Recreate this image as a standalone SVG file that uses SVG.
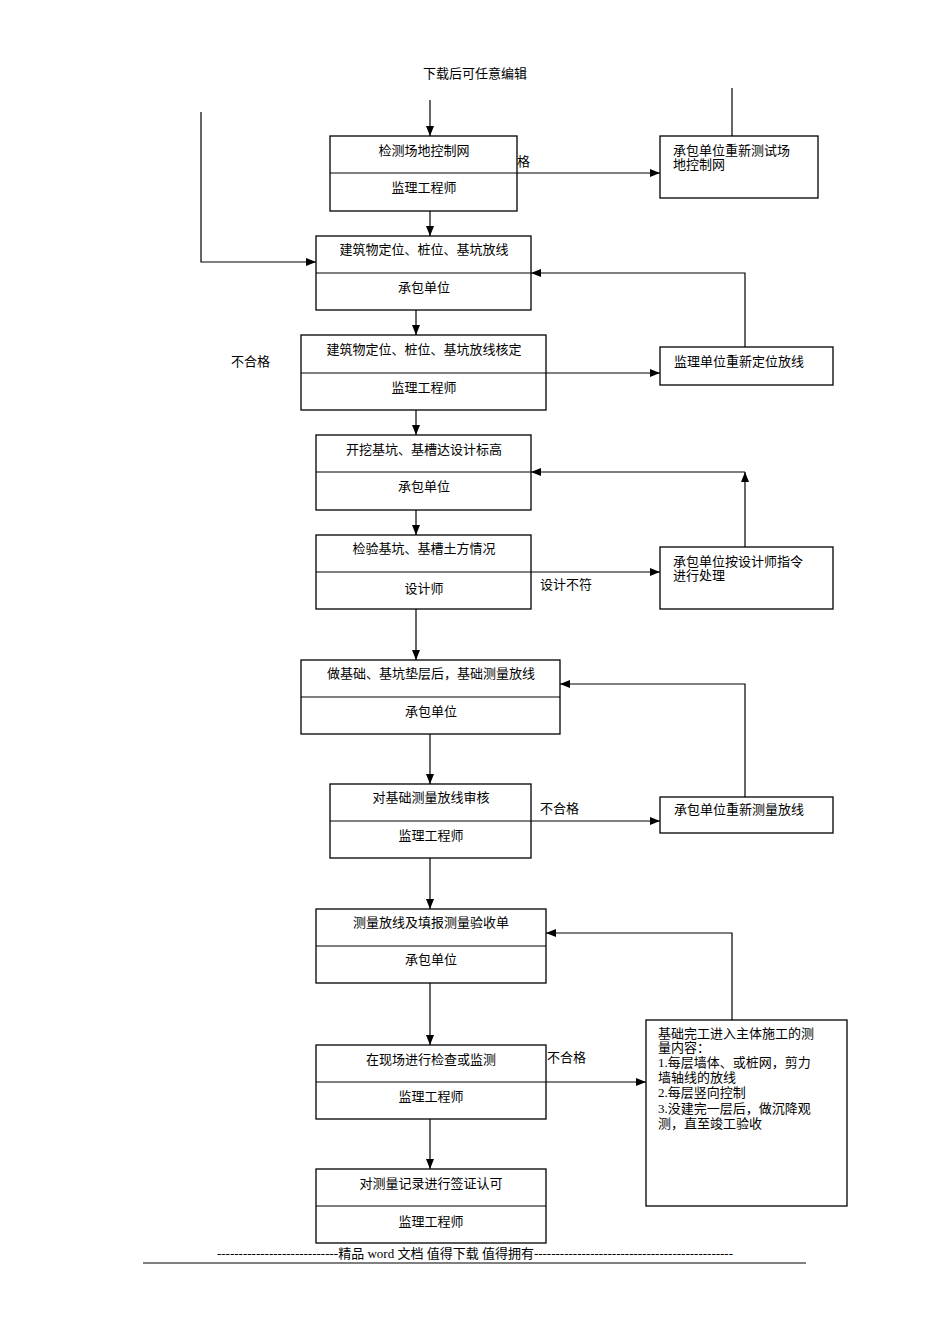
<svg xmlns="http://www.w3.org/2000/svg" width="950" height="1344" viewBox="0 0 950 1344">
<defs>
<marker id="a" markerWidth="10" markerHeight="8" refX="10" refY="4" orient="auto" markerUnits="userSpaceOnUse"><path d="M0,0L10,4L0,8z" fill="#000"/></marker>
<style>
rect{fill:#fff;stroke:#000;stroke-width:1.3}
line.d{stroke:#000;stroke-width:1}
text{font-family:"Liberation Serif","Noto Sans CJK SC",serif;font-size:13px;fill:#000}
.c{text-anchor:middle}
#conn path{fill:none;stroke:#000;stroke-width:1.2}
.m{marker-end:url(#a)}
</style>
</defs>
<rect width="950" height="1344" style="fill:#fff;stroke:none"/>
<text class="c" x="475" y="78" font-size="12">下载后可任意编辑</text>
<g id="conn">
<path class="m" d="M430,100V136"/>
<path d="M732,88V136"/>
<path class="m" d="M201,112V262H316"/>
<path class="m" d="M517,173H660"/>
<path class="m" d="M430,211V236"/>
<path class="m" d="M745,347V273H531"/>
<path class="m" d="M416,310V335"/>
<path class="m" d="M546,373H660"/>
<path class="m" d="M416,410V435"/>
<path class="m" d="M745,547V472"/>
<path class="m" d="M745,472H531"/>
<path class="m" d="M416,510V535"/>
<path class="m" d="M531,572H660"/>
<path class="m" d="M416,609V660"/>
<path class="m" d="M745,797V684H560"/>
<path class="m" d="M430,734V784"/>
<path class="m" d="M531,821H660"/>
<path class="m" d="M430,858V909"/>
<path class="m" d="M732,1020V933H546"/>
<path class="m" d="M430,983V1045"/>
<path class="m" d="M546,1082H646"/>
<path class="m" d="M430,1119V1169"/>
</g>
<text x="517" y="166">格</text>
<text x="231" y="366">不合格</text>
<text x="540" y="589">设计不符</text>
<text x="540" y="813">不合格</text>
<text x="547" y="1062">不合格</text>
<g id="n1"><rect x="330" y="136" width="187" height="75"/><line class="d" x1="330" y1="173" x2="517" y2="173"/><text class="c" x="424" y="155">检测场地控制网</text><text class="c" x="424" y="192">监理工程师</text></g>
<g id="n2"><rect x="316" y="236" width="215" height="74"/><line class="d" x1="316" y1="273" x2="531" y2="273"/><text class="c" x="424" y="254">建筑物定位、桩位、基坑放线</text><text class="c" x="424" y="292">承包单位</text></g>
<g id="n3"><rect x="301" y="335" width="245" height="75"/><line class="d" x1="301" y1="373" x2="546" y2="373"/><text class="c" x="424" y="354">建筑物定位、桩位、基坑放线核定</text><text class="c" x="424" y="392">监理工程师</text></g>
<g id="n4"><rect x="316" y="435" width="215" height="75"/><line class="d" x1="316" y1="472" x2="531" y2="472"/><text class="c" x="424" y="454">开挖基坑、基槽达设计标高</text><text class="c" x="424" y="491">承包单位</text></g>
<g id="n5"><rect x="316" y="535" width="215" height="74"/><line class="d" x1="316" y1="572" x2="531" y2="572"/><text class="c" x="424" y="553">检验基坑、基槽土方情况</text><text class="c" x="424" y="593" font-size="15">设计师</text></g>
<g id="n6"><rect x="301" y="660" width="259" height="74"/><line class="d" x1="301" y1="697" x2="560" y2="697"/><text class="c" x="431" y="678">做基础、基坑垫层后，基础测量放线</text><text class="c" x="431" y="716">承包单位</text></g>
<g id="n7"><rect x="330" y="784" width="201" height="74"/><line class="d" x1="330" y1="821" x2="531" y2="821"/><text class="c" x="431" y="802">对基础测量放线审核</text><text class="c" x="431" y="840">监理工程师</text></g>
<g id="n8"><rect x="316" y="909" width="230" height="74"/><line class="d" x1="316" y1="946" x2="546" y2="946"/><text class="c" x="431" y="927">测量放线及填报测量验收单</text><text class="c" x="431" y="964">承包单位</text></g>
<g id="n9"><rect x="316" y="1045" width="230" height="74"/><line class="d" x1="316" y1="1082" x2="546" y2="1082"/><text class="c" x="431" y="1064">在现场进行检查或监测</text><text class="c" x="431" y="1101">监理工程师</text></g>
<g id="n10"><rect x="316" y="1169" width="230" height="74"/><line class="d" x1="316" y1="1206" x2="546" y2="1206"/><text class="c" x="431" y="1188">对测量记录进行签证认可</text><text class="c" x="431" y="1226">监理工程师</text></g>
<g id="r1"><rect x="660" y="136" width="158" height="62"/><text x="673" y="155">承包单位重新测试场</text><text x="673" y="169">地控制网</text></g>
<g id="r2"><rect x="660" y="347" width="173" height="38"/><text x="674" y="366">监理单位重新定位放线</text></g>
<g id="r3"><rect x="660" y="547" width="173" height="62"/><text x="673" y="566">承包单位按设计师指令</text><text x="673" y="580">进行处理</text></g>
<g id="r4"><rect x="660" y="797" width="173" height="36"/><text x="674" y="814">承包单位重新测量放线</text></g>
<g id="r5"><rect x="646" y="1020" width="201" height="186"/>
<text x="658" y="1038">基础完工进入主体施工的测</text><text x="658" y="1052">量内容：</text><text x="658" y="1067">1.每层墙体、或桩网，剪力</text><text x="658" y="1082">墙轴线的放线</text><text x="658" y="1097">2.每层竖向控制</text><text x="658" y="1113">3.没建完一层后，做沉降观</text><text x="658" y="1128">测，直至竣工验收</text></g>
<text class="c" x="475" y="1258" font-size="12.5">----------------------------精品 word 文档 值得下载 值得拥有----------------------------------------------</text>
<line class="d" x1="143" y1="1263" x2="806" y2="1263"/>
</svg>
